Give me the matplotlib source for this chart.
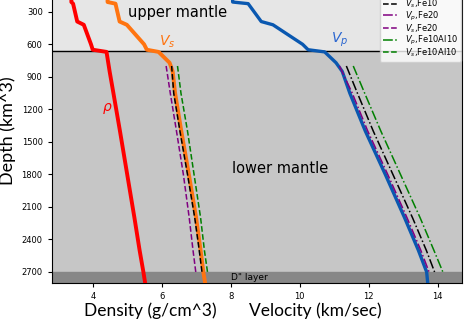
import numpy as np
import matplotlib
matplotlib.use("Agg")
import matplotlib.pyplot as plt
from matplotlib.ticker import MultipleLocator

# reference (PREM-like) profiles
depth = [100, 210, 225, 390, 420, 600, 650, 670, 770, 850, 1050, 1400, 1800, 2200, 2500, 2700, 2800]
rho = [3.37, 3.37, 3.42, 3.54, 3.73, 3.94, 3.99, 4.39, 4.44, 4.48, 4.59, 4.78, 4.99, 5.20, 5.35, 5.46, 5.51]
vs = [4.42, 4.42, 4.65, 4.77, 4.98, 5.48, 5.56, 5.90, 6.22, 6.31, 6.38, 6.56, 6.78, 6.99, 7.12, 7.20, 7.25]
vp = [8.05, 8.05, 8.50, 8.88, 9.22, 10.08, 10.24, 10.72, 11.05, 11.23, 11.45, 11.90, 12.48, 13.04, 13.44, 13.68, 13.71]

# model profiles in the lower mantle
depth_lm = [800, 1050, 1400, 1800, 2200, 2500, 2700]
vp_fe10 = [11.35, 11.67, 12.13, 12.70, 13.27, 13.67, 13.91]
vs_fe10 = [6.28, 6.34, 6.52, 6.74, 6.95, 7.08, 7.16]
vp_fe20 = [11.15, 11.52, 11.97, 12.55, 13.11, 13.51, 13.75]
vs_fe20 = [6.12, 6.24, 6.42, 6.62, 6.79, 6.90, 6.98]
vp_fe10al10 = [11.55, 11.88, 12.35, 12.92, 13.49, 13.89, 14.15]
vs_fe10al10 = [6.45, 6.55, 6.74, 6.93, 7.12, 7.23, 7.32]

models = [
    (vp_fe10, 'black', '-.', r'$V_p$,Fe10'),
    (vs_fe10, 'black', '--', r'$V_s$,Fe10'),
    (vp_fe20, 'purple', '-.', r'$V_p$,Fe20'),
    (vs_fe20, 'purple', '--', r'$V_s$,Fe20'),
    (vp_fe10al10, 'green', '-.', r'$V_p$,Fe10Al10'),
    (vs_fe10al10, 'green', '--', r'$V_s$,Fe10Al10'),
]

fig = plt.figure(figsize=(4.66, 3.25), dpi=100)
ax = fig.add_axes([0.111, 0.1298, 0.880, 0.934])

ax.axhspan(0, 660, color='#e6e6e6', zorder=0)
ax.axhspan(660, 2700, color='#c6c6c6', zorder=0)
ax.axhspan(2700, 2800, color='#878787', zorder=0)
ax.axhline(660, color='black', lw=1.0, zorder=1)

ax.plot(rho, depth, color='red', lw=2.8, zorder=3)
ax.plot(vs, depth, color='#ff7410', lw=2.8, zorder=3)
ax.plot(vp, depth, color='#0a58b0', lw=2.4, zorder=3)

for vals, col, ls, lab in models:
    ax.plot(vals, depth_lm, color=col, linestyle=ls, lw=1.1, label=lab, zorder=4)

ax.text(4.42, 1190, r'$\rho$', color='red', fontsize=10, ha='center', va='center')
ax.text(6.15, 575, r'$V_s$', color='#ff7410', fontsize=10, ha='center', va='center')
ax.text(11.15, 560, r'$V_p$', color='#2a66d0', fontsize=10, ha='center', va='center')

ax.text(5.02, 306, 'upper mantle', fontsize=10.5, ha='left', va='center')
ax.text(8.03, 1745, 'lower mantle', fontsize=10.5, ha='left', va='center')
ax.text(8.0, 2752, 'D" layer', fontsize=6.5, ha='left', va='center')

ax.set_xlim(2.8, 14.7)
ax.set_ylim(2800, 0)
ax.xaxis.set_major_locator(MultipleLocator(2))
ax.set_yticks(np.arange(300, 2701, 300))
ax.tick_params(labelsize=6, length=3)

ax.set_ylabel('Depth (km^3)', fontsize=13, family='Lato', labelpad=4)

fig.text(150 / 466, 1 - 311 / 325, 'Density (g/cm^3)', fontsize=12.5, family='Lato',
         ha='center', va='center')
fig.text(315 / 466, 1 - 311 / 325, 'Velocity (km/sec)', fontsize=12.5, family='Lato',
         ha='center', va='center')

ax.legend(loc='lower right', bbox_to_anchor=(0.998, 0.728), borderaxespad=0,
          fontsize=6, labelspacing=-0.08, handlelength=2.0, handletextpad=0.7,
          borderpad=0.35)

fig.savefig('out.png', dpi=100)
